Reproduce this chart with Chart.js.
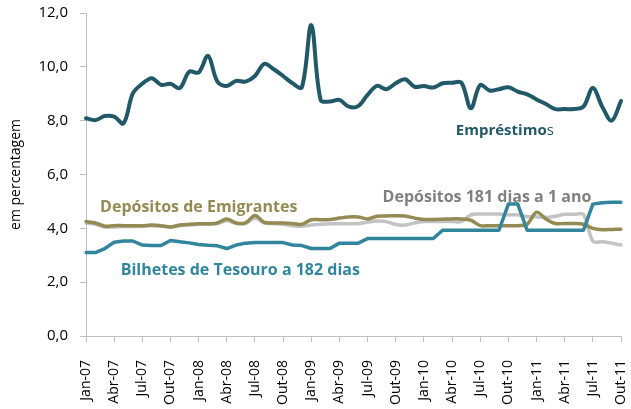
<!DOCTYPE html>
<html lang="pt">
<head>
<meta charset="utf-8">
<title>Taxas de juro</title>
<script src="https://cdn.jsdelivr.net/npm/chart.js@4.4.0/dist/chart.umd.min.js"></script>
<style>
  html, body { margin: 0; padding: 0; background: #fff; }
  #wrap { width: 631px; height: 409px; }
</style>
</head>
<body>
<div id="wrap"><canvas id="taxasChart" width="631" height="409"></canvas></div>
<script>
// Meses (Jan-07 a Out-11)
const meses = ['Jan', 'Fev', 'Mar', 'Abr', 'Mai', 'Jun', 'Jul', 'Ago', 'Set', 'Out', 'Nov', 'Dez'];
const anos = ['07', '08', '09', '10', '11'];
const yTicks = [0, 2, 4, 6, 8, 10, 12];

const emprestimos = [
  8.09, 8.02, 8.17, 8.15, 7.90, 9.02, 9.37, 9.58, 9.33, 9.37, 9.21, 9.82,
  9.79, 10.41, 9.45, 9.29, 9.48, 9.45, 9.66, 10.11, 9.91, 9.66, 9.39, 9.24,
  11.55, 8.77, 8.71, 8.77, 8.52, 8.54, 8.96, 9.29, 9.17, 9.39, 9.54, 9.26,
  9.29, 9.23, 9.39, 9.41, 9.41, 8.46, 9.33, 9.12, 9.17, 9.24, 9.08, 8.98,
  8.79, 8.62, 8.43, 8.43, 8.43, 8.52, 9.21, 8.52, 8.00, 8.73
];
const depEmigrantes = [
  4.25, 4.20, 4.08, 4.10, 4.10, 4.10, 4.10, 4.12, 4.10, 4.05, 4.12, 4.15,
  4.17, 4.17, 4.20, 4.35, 4.20, 4.20, 4.48, 4.22, 4.20, 4.20, 4.18, 4.15,
  4.32, 4.32, 4.33, 4.38, 4.42, 4.42, 4.35, 4.45, 4.46, 4.47, 4.46, 4.38,
  4.33, 4.33, 4.34, 4.35, 4.35, 4.30, 4.10, 4.10, 4.10, 4.10, 4.10, 4.15,
  4.60, 4.35, 4.18, 4.18, 4.18, 4.15, 4.00, 3.95, 3.96, 3.97
];
const dep181 = [
  4.20, 4.15, 4.05, 4.05, 4.07, 4.07, 4.08, 4.10, 4.08, 4.05, 4.10, 4.12,
  4.15, 4.15, 4.18, 4.28, 4.18, 4.18, 4.38, 4.20, 4.18, 4.15, 4.10, 4.08,
  4.12, 4.15, 4.17, 4.17, 4.17, 4.17, 4.23, 4.27, 4.25, 4.14, 4.12, 4.20,
  4.25, 4.25, 4.25, 4.25, 4.25, 4.50, 4.53, 4.53, 4.53, 4.50, 4.50, 4.43,
  4.43, 4.40, 4.45, 4.52, 4.52, 4.52, 3.52, 3.50, 3.45, 3.38
];
const bilhetes = [
  3.10, 3.10, 3.25, 3.48, 3.53, 3.53, 3.38, 3.36, 3.36, 3.55, 3.50, 3.46,
  3.40, 3.37, 3.35, 3.25, 3.38, 3.45, 3.47, 3.47, 3.47, 3.47, 3.38, 3.36,
  3.25, 3.25, 3.25, 3.45, 3.45, 3.45, 3.62, 3.62, 3.62, 3.62, 3.62, 3.62,
  3.62, 3.62, 3.93, 3.93, 3.93, 3.93, 3.93, 3.93, 3.93, 4.90, 4.90, 3.93,
  3.93, 3.93, 3.93, 3.93, 3.93, 3.93, 4.90, 4.95, 4.97, 4.97
];

const labels = [];
anos.forEach(a => meses.forEach(m => labels.push(m + '-' + a)));
labels.length = emprestimos.length;

// cores
const corEmprestimos = '#215968';
const corBilhetes = '#31859c';
const corEmigrantes = '#948a54';
const cor181 = '#c3c3c3';
const cor181Texto = '#808080';

const fonte = "'Open Sans', 'Liberation Sans', sans-serif";

// textos das séries, colocados pelo índice do mês e valor
const anotacoes = [
  { texto: 'Empréstimo', sufixo: 's', i: 39.4, v: 7.62, cor: corEmprestimos, size: 15 },
  { texto: 'Depósitos de Emigrantes', i: 1.5, v: 4.79, cor: corEmigrantes, size: 16 },
  { texto: 'Depósitos 181 dias a 1 ano', i: 31.6, v: 5.13, cor: cor181Texto, size: 16 },
  { texto: 'Bilhetes de Tesouro a 182 dias', i: 3.7, v: 2.45, cor: corBilhetes, size: 16 }
];

const anotacoesPlugin = {
  id: 'anotacoes',
  beforeDatasetsDraw(chart) {
    const { ctx, scales: { x, y } } = chart;
    ctx.save();
    ctx.textBaseline = 'middle';
    ctx.textAlign = 'left';
    anotacoes.forEach(a => {
      const px = x.getPixelForValue(a.i);
      const py = y.getPixelForValue(a.v);
      ctx.font = 'bold ' + a.size + 'px ' + fonte;
      ctx.fillStyle = a.cor;
      ctx.fillText(a.texto, px, py);
      if (a.sufixo) {
        const w = ctx.measureText(a.texto).width;
        ctx.font = a.size + 'px ' + fonte;
        ctx.fillText(a.sufixo, px + w, py);
      }
    });
    ctx.restore();
  }
};

const serie = (label, data, cor, width, tension, order) => ({
  label, data,
  borderColor: cor,
  backgroundColor: cor,
  borderWidth: width,
  tension,
  order,
  pointRadius: 0,
  borderJoinStyle: 'round',
  borderCapStyle: 'round',
  fill: false
});

new Chart(document.getElementById('taxasChart'), {
  type: 'line',
  data: {
    labels,
    datasets: [
      serie('Empréstimos', emprestimos, corEmprestimos, 4, 0.35, 1),
      serie('Bilhetes de Tesouro a 182 dias', bilhetes, corBilhetes, 3.5, 0, 2),
      serie('Depósitos de Emigrantes', depEmigrantes, corEmigrantes, 3.5, 0.3, 3),
      serie('Depósitos 181 dias a 1 ano', dep181, cor181, 3.5, 0.3, 4)
    ]
  },
  options: {
    responsive: false,
    animation: false,
    layout: { padding: { top: 13, right: 10, bottom: 0, left: 0 } },
    plugins: {
      legend: { display: false },
      tooltip: { enabled: false }
    },
    scales: {
      x: {
        offset: false,
        grid: { drawOnChartArea: false, drawTicks: true, tickLength: 6, color: '#bfbfbf' },
        border: { display: true, color: '#bfbfbf' },
        ticks: {
          autoSkip: false,
          maxRotation: 90,
          minRotation: 90,
          padding: 18,
          color: '#000',
          font: { family: fonte, size: 14 },
          callback: function(value, index) {
            return index % 3 === 0 ? this.getLabelForValue(value) : null;
          }
        },
        afterFit(scale) {
          scale.height = 73;
          scale.paddingLeft = 0;
          scale.paddingRight = 0;
        }
      },
      y: {
        min: 0,
        max: 12,
        afterBuildTicks(scale) { scale.ticks = yTicks.map(v => ({ value: v })); },
        grid: { drawOnChartArea: false, drawTicks: true, tickLength: 6, color: '#bfbfbf' },
        border: { display: true, color: '#bfbfbf' },
        ticks: {
          padding: 12,
          color: '#000',
          font: { family: fonte, size: 15 },
          callback: v => v.toFixed(1).replace('.', ',')
        },
        title: {
          display: true,
          text: 'em percentagem',
          color: '#000',
          font: { family: fonte, size: 14 },
          padding: { top: 8, bottom: 0 }
        },
        afterFit(scale) {
          scale.width = 86;
          scale.paddingTop = 0;
          scale.paddingBottom = 0;
        }
      }
    }
  },
  plugins: [anotacoesPlugin]
});
</script>
</body>
</html>
